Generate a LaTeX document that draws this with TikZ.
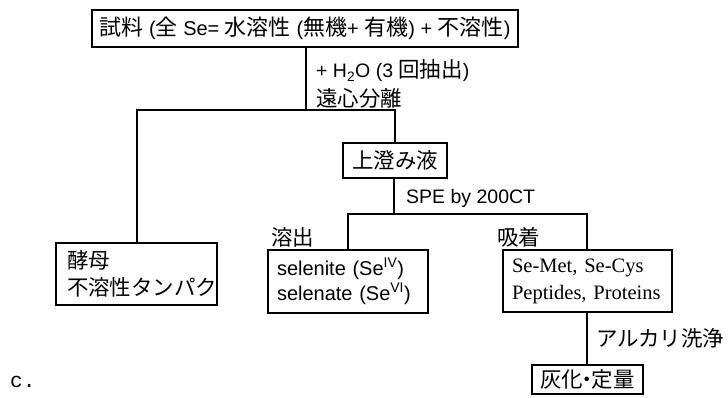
\documentclass[tikz,border=0pt]{standalone}
\usepackage{fontspec}
\setmainfont{Liberation Sans}
\newfontfamily\jpfont[Scale=1.1]{Noto Sans CJK JP}
\newfontfamily\tmsfont{Liberation Serif}
\newfontfamily\courfont{Liberation Mono}
\newcommand\J[1]{{\jpfont #1}}
\begin{document}
\begin{tikzpicture}[x=1pt,y=-1pt,
  box/.style={draw,line width=2.6pt,inner ysep=0pt,font=\fontsize{19.5}{26}\selectfont},
  conn/.style={line width=1.7pt},
  lbl/.style={anchor=west,inner sep=0pt,font=\fontsize{19.5}{24}\selectfont}]
\useasboundingbox (0,0) rectangle (728,398);
% boxes
\node[box,minimum width=426pt,minimum height=37pt,inner xsep=0pt,font=\fontsize{20}{26}\selectfont] (top) at (305,28.5)
  {\J{試料} (\J{全} Se= \J{水溶性} (\J{無機}+ \J{有機}) + \J{不溶性})};
\node[box,minimum width=104pt,minimum height=35pt,inner xsep=0pt] (sup) at (395,160.5) {\J{上澄み液}};
\node[box,text width=139pt,inner xsep=11pt,minimum height=62pt,align=left,font=\fontsize{19.5}{27}\selectfont] (yeast) at (136.5,274)
  {\J{酵母}\\\J{不溶性タンパク}};
\node[box,text width=142pt,inner xsep=9pt,minimum height=63pt,align=left,font=\fontsize{20}{25}\selectfont] (selen) at (348,281.5)
  {selenite (Se\textsuperscript{IV})\\selenate (Se\textsuperscript{VI})};
\node[box,text width=151pt,inner xsep=9pt,minimum height=62pt,align=left,font=\tmsfont\fontsize{20.5}{27}\selectfont] (semet) at (587.5,281)
  {Se-Met, Se-Cys\\Peptides, Proteins};
\node[box,minimum width=111pt,minimum height=29pt,inner xsep=0pt] (ash) at (587.5,379.5)
  {\J{灰化\kern-0.3em・\kern-0.3em定量}};
% junction coordinates
\coordinate (j1) at (306,110);
\coordinate (j1l) at (137,110);
\coordinate (j1r) at (395,110);
\coordinate (j2) at (394,214);
\coordinate (j2l) at (348,214);
\coordinate (j2r) at (587,214);
% connectors
\draw[conn] (top.south -| j1) -- (j1);
\draw[conn] (yeast.north -| j1l) -- (j1l) -- (j1r) -- (sup.north -| j1r);
\draw[conn] (sup.south -| j2) -- (j2);
\draw[conn] (selen.north -| j2l) -- (j2l) -- (j2r) -- (semet.north -| j2r);
\draw[conn] (semet.south -| j2r) -- (ash.north -| j2r);
% labels
\node[lbl] (l1) at (316,71) {+ H\textsubscript{2}O (3 \J{回抽出})};
\node[lbl] (l2) at (316,98) {\J{遠心分離}};
\node[lbl] (l3) at (406,198) {SPE by 200CT};
\node[lbl] (l4) at (271,237) {\J{溶出}};
\node[lbl] (l5) at (497,237) {\J{吸着}};
\node[lbl] (l6) at (596,338) {\J{アルカリ洗浄}};
\node[lbl,font=\courfont\fontsize{21}{24}\selectfont] (c) at (10,382) {c.};
\end{tikzpicture}
\end{document}
